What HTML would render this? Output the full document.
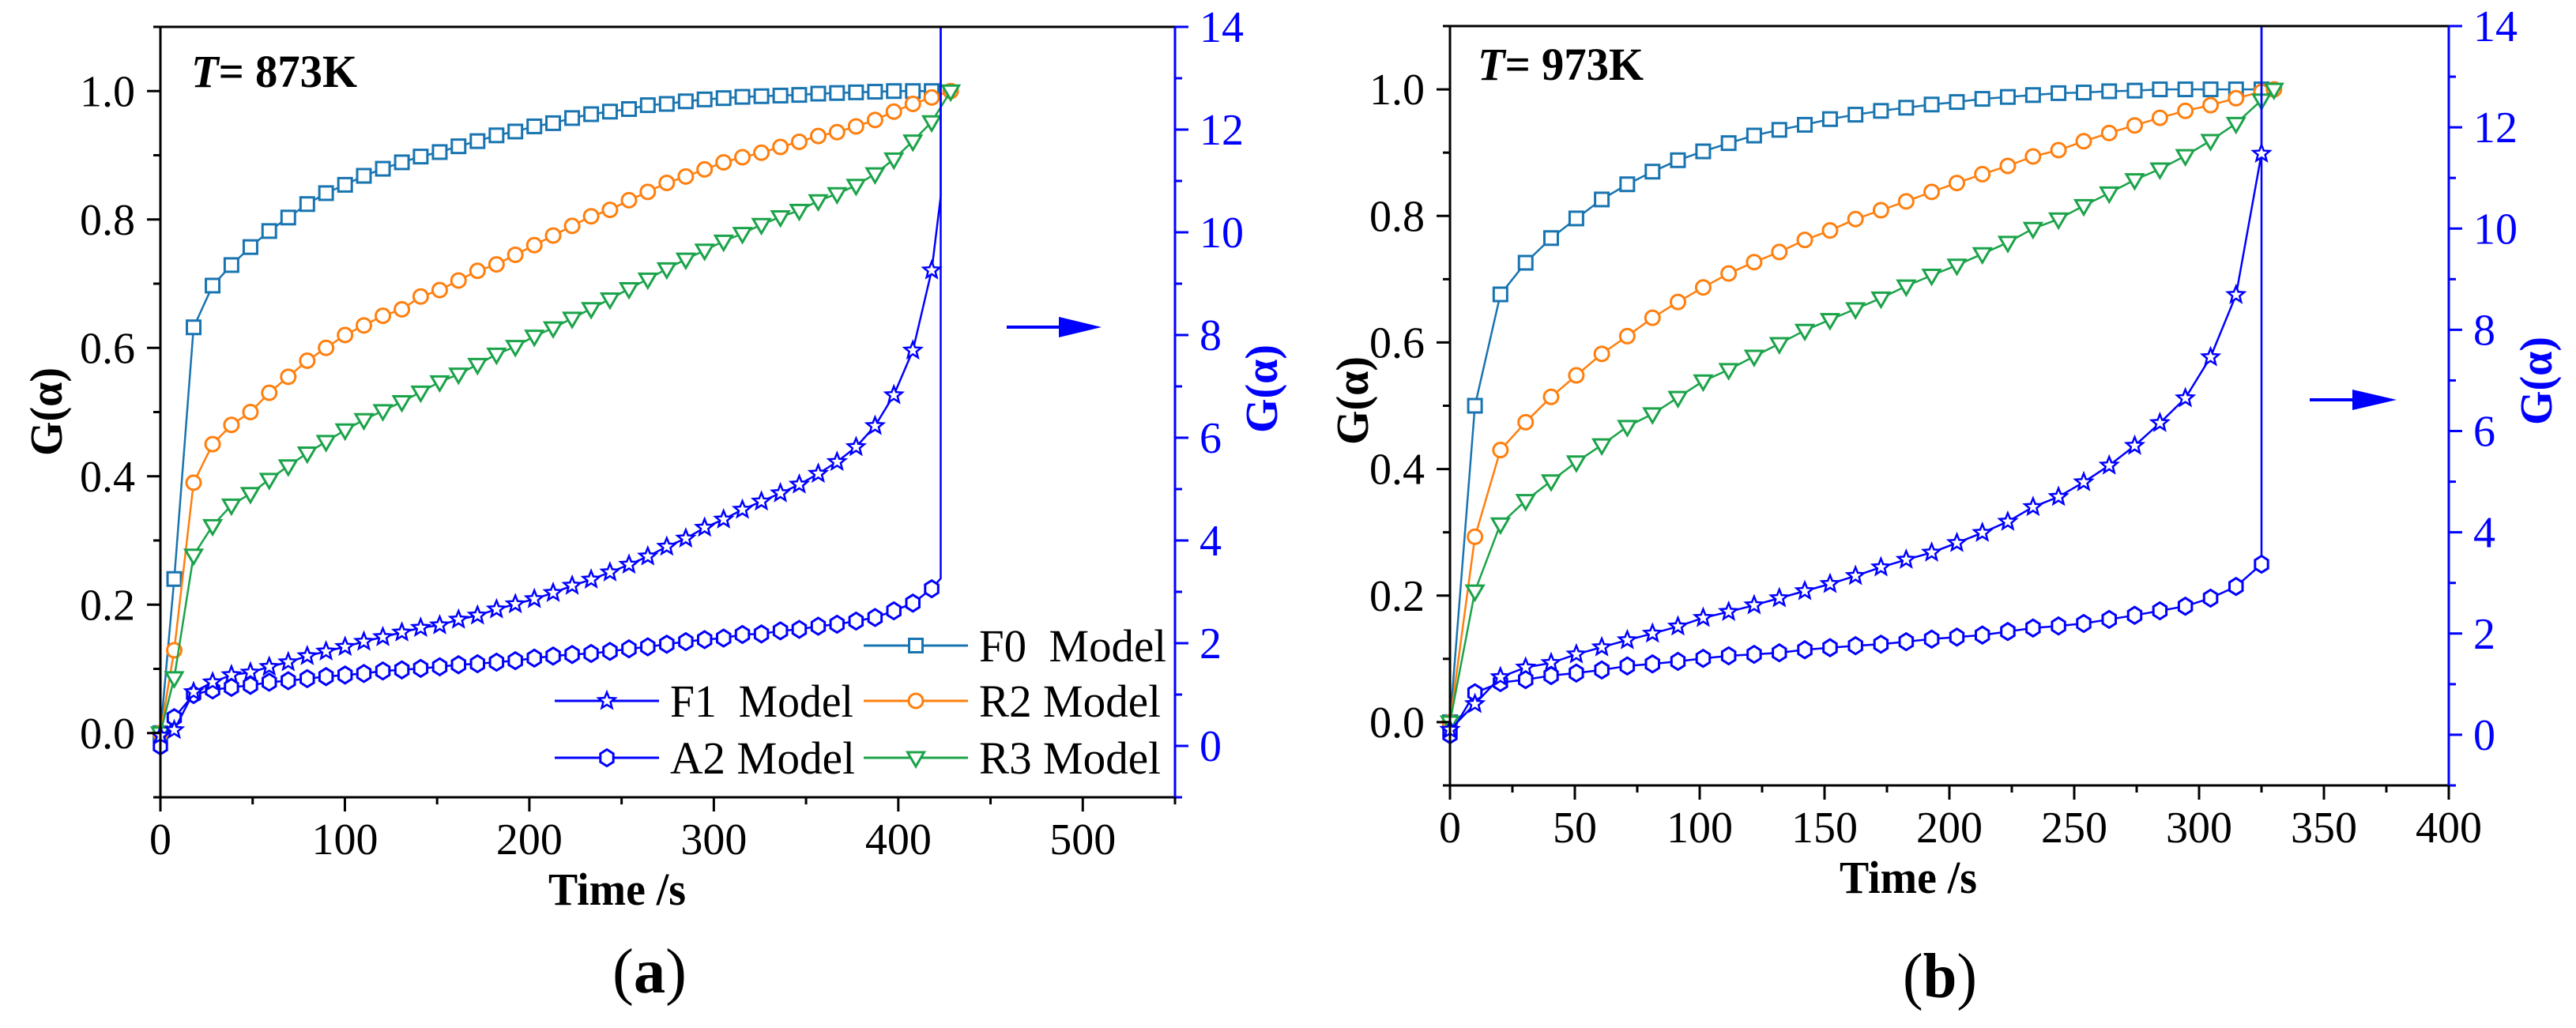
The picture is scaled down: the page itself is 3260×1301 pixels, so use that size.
<!DOCTYPE html>
<html><head><meta charset="utf-8">
<style>
html,body{margin:0;padding:0;background:#fff;}
svg{display:block;}
</style></head>
<body>
<svg id="chart" width="3260" height="1301" viewBox="0 0 3260 1301" xmlns="http://www.w3.org/2000/svg"></svg>
<script>
// ---------- Panel (a) data : T = 873K ----------
const aTime = [0,7.5,18,28.3,38.5,48.8,59,69.3,79.6,89.8,100.1,110.3,120.6,130.9,141.1,151.4,161.6,171.9,182.2,192.4,202.7,212.9,223.2,233.5,243.7,254,264.2,274.5,284.8,295,305.3,315.5,325.8,336.1,346.3,356.6,366.8,377.1,387.4,397.6,407.9,418.1,428.4];
const aF0 = [0,0.24,0.632,0.697,0.729,0.757,0.782,0.803,0.824,0.841,0.854,0.868,0.879,0.889,0.898,0.905,0.914,0.922,0.931,0.937,0.945,0.95,0.958,0.964,0.968,0.972,0.978,0.98,0.984,0.987,0.989,0.991,0.992,0.993,0.994,0.996,0.997,0.998,0.999,1.0,1.0,1.0,null];
const aR2 = [0,0.129,0.39,0.45,0.48,0.50,0.53,0.555,0.58,0.60,0.62,0.635,0.65,0.66,0.68,0.69,0.705,0.72,0.73,0.745,0.76,0.775,0.79,0.805,0.815,0.83,0.843,0.857,0.867,0.878,0.889,0.897,0.904,0.913,0.921,0.93,0.936,0.945,0.955,0.968,0.98,0.99,1.0];
const aR3 = [0,0.086,0.277,0.323,0.355,0.373,0.395,0.416,0.436,0.454,0.472,0.488,0.502,0.516,0.531,0.547,0.559,0.574,0.59,0.602,0.618,0.631,0.646,0.661,0.676,0.692,0.707,0.723,0.738,0.752,0.766,0.778,0.792,0.804,0.814,0.829,0.84,0.853,0.871,0.894,0.922,0.952,1.0];
const aF1 = [0.2,0.31,1.05,1.24,1.38,1.43,1.54,1.63,1.75,1.84,1.93,2.03,2.12,2.21,2.3,2.35,2.46,2.54,2.66,2.76,2.86,2.98,3.12,3.24,3.38,3.53,3.69,3.88,4.04,4.25,4.41,4.6,4.76,4.92,5.09,5.3,5.53,5.82,6.23,6.83,7.7,9.26,null];
const aA2 = [0,0.55,1.0,1.09,1.14,1.18,1.24,1.27,1.31,1.35,1.38,1.41,1.46,1.48,1.51,1.54,1.58,1.6,1.63,1.66,1.71,1.75,1.78,1.8,1.84,1.89,1.93,1.98,2.03,2.07,2.1,2.17,2.18,2.24,2.27,2.33,2.37,2.43,2.5,2.63,2.78,3.06,null];
const aEndTime = 423;
const aF1End = [10.7,16];
const aA2End = [3.26,16];
// ---------- Panel (b) data : T = 973K ----------
const bTime = [0,10,20.2,30.3,40.5,50.6,60.8,71,81.1,91.3,101.4,111.6,121.8,131.9,142.1,152.2,162.4,172.6,182.7,192.9,203,213.2,223.4,233.5,243.7,253.8,264,274.2,284.3,294.5,304.6,314.8,325,330];
const bF0 = [0,0.50,0.676,0.726,0.765,0.796,0.826,0.85,0.87,0.888,0.902,0.915,0.927,0.936,0.944,0.953,0.96,0.966,0.971,0.976,0.98,0.985,0.988,0.991,0.994,0.995,0.997,0.998,1.0,1.0,1.0,1.0,1.0,null];
const bR2 = [0,0.293,0.43,0.474,0.514,0.548,0.582,0.61,0.639,0.664,0.687,0.709,0.727,0.743,0.762,0.777,0.795,0.809,0.823,0.838,0.852,0.866,0.879,0.894,0.904,0.918,0.931,0.943,0.955,0.966,0.975,0.986,0.996,1.0];
const bR3 = [0,0.207,0.313,0.35,0.381,0.411,0.438,0.467,0.487,0.513,0.539,0.557,0.578,0.598,0.619,0.636,0.653,0.67,0.689,0.706,0.722,0.74,0.758,0.78,0.795,0.816,0.836,0.857,0.874,0.895,0.919,0.946,0.983,1.0];
const bF1 = [0.1,0.61,1.14,1.33,1.42,1.59,1.73,1.87,2.0,2.14,2.31,2.43,2.56,2.7,2.84,2.98,3.14,3.31,3.46,3.6,3.79,3.99,4.21,4.5,4.7,4.99,5.32,5.71,6.16,6.65,7.46,8.69,11.48,null];
const bA2 = [0,0.83,1.03,1.09,1.17,1.22,1.28,1.36,1.4,1.45,1.51,1.56,1.59,1.62,1.68,1.72,1.76,1.79,1.84,1.89,1.93,1.97,2.04,2.11,2.15,2.2,2.28,2.36,2.45,2.54,2.7,2.93,3.37,null];
const bEndTime = 325;
const bF1End = [16];
const bA2End = [16];
// ---------- tick labels ----------
const leftTicks = ["0.0","0.2","0.4","0.6","0.8","1.0"];
const rightTicks = ["0","2","4","6","8","10","12","14"];
const aXTicks = ["0","100","200","300","400","500"];
const bXTicks = ["0","50","100","150","200","250","300","350","400"];

const NS = "http://www.w3.org/2000/svg";
const svg = document.getElementById('chart');
const C = {F0:"#1874b0", R2:"#ff7f0e", R3:"#1ba34a", F1:"#0000ff", A2:"#0000ff"};
const FONT = "'Liberation Serif', 'Nimbus Roman', 'DejaVu Serif Condensed', 'DejaVu Serif', serif";

function mk(tag, attrs, parent){
  const e = document.createElementNS(NS, tag);
  for (const k in attrs) e.setAttribute(k, attrs[k]);
  if (tag === 'text') e.style.fontFamily = FONT;
  (parent||svg).appendChild(e);
  return e;
}
// width of a numeric label in Times-like metrics (digits 0.5em, dot 0.25em)
function numWidth(t, fs){ let w=0; for (const c of t) w += (c==='.'?0.25:0.5)*fs; return w; }
function fit(e, w){ e.setAttribute('textLength', w.toFixed(1)); e.setAttribute('lengthAdjust', 'spacingAndGlyphs'); }

function marker(g, type, x, y, color){
  let e;
  if (type === 'square') {
    e = mk('rect', {x:x-8.5, y:y-8.5, width:17, height:17, fill:'#fff', stroke:color, 'stroke-width':3}, g);
  } else if (type === 'circle') {
    e = mk('circle', {cx:x, cy:y, r:9, fill:'#fff', stroke:color, 'stroke-width':3}, g);
  } else if (type === 'tri') {
    e = mk('polygon', {points:`${x-10.5},${y-7} ${x+10.5},${y-7} ${x},${y+11}`, fill:'#fff', stroke:color, 'stroke-width':3}, g);
  } else if (type === 'hex') {
    let p=[]; for(let i=0;i<6;i++){const a=Math.PI/3*i+Math.PI/6; p.push((x+9.5*Math.cos(a)).toFixed(1)+','+(y+10.5*Math.sin(a)).toFixed(1));}
    e = mk('polygon', {points:p.join(' '), fill:'#fff', stroke:color, 'stroke-width':3}, g);
  } else {
    let p=[]; for(let i=0;i<10;i++){const r=i%2?4.8:11; const a=-Math.PI/2+Math.PI/5*i; p.push((x+r*Math.cos(a)).toFixed(1)+','+(y+r*Math.sin(a)).toFixed(1));}
    e = mk('polygon', {points:p.join(' '), fill:'#fff', stroke:color, 'stroke-width':2.5}, g);
  }
  return e;
}

function panel(P){
  const g = mk('g', {});
  
  
  const sx = v => P.L + (v - P.x0)/(P.x1 - P.x0)*(P.R - P.L);
  const syL = v => P.B - (v + 0.1)/1.2*(P.B - P.T);
  const syR = v => P.B - (v + 1)/15*(P.B - P.T);
  const clipId = 'clip-' + P.id;
  const cp = mk('clipPath', {id:clipId}, g);
  mk('rect', {x:P.L-25, y:P.T, width:P.R-P.L+50, height:P.B-P.T+30}, cp);
  const plot = mk('g', {'clip-path':`url(#${clipId})`}, g);
  
  

  P.series.forEach(s => {
    const sy = s.right ? syR : syL;
    const sg = mk('g', {}, plot);
    
    
    let pts = [];
    s.vals.forEach((v,i) => { if (v !== null) pts.push([sx(P.time[i]), sy(v)]); });
    if (s.end) s.end.forEach(v => pts.push([sx(P.endTime), sy(v)]));
    const line = mk('polyline', {points: pts.map(p=>p[0].toFixed(1)+','+p[1].toFixed(1)).join(' '), fill:'none', stroke:C[s.key], 'stroke-width':2.5, 'stroke-linejoin':'round'}, sg);
    
    
    s.vals.forEach((v,i) => {
      if (v === null) return;
      const m = marker(sg, s.mk, sx(P.time[i]), sy(v), C[s.key]);
      
      
    });
  });

  const ax = mk('g', {}, g);
  
  
  mk('line', {x1:P.L, y1:P.T, x2:P.R, y2:P.T, stroke:'#000', 'stroke-width':3}, ax);
  mk('line', {x1:P.L, y1:P.T, x2:P.L, y2:P.B, stroke:'#000', 'stroke-width':3}, ax);
  mk('line', {x1:P.L, y1:P.B, x2:P.R, y2:P.B, stroke:'#000', 'stroke-width':3}, ax);
  mk('line', {x1:P.R, y1:P.T, x2:P.R, y2:P.B, stroke:'#0000ff', 'stroke-width':3}, ax);

  for (let k=-1;k<=11;k++){
    const v=k/10, y=syL(v), major = k%2===0 && k>=0 && k<=10;
    mk('line', {x1:P.L-(major?17:9), y1:y, x2:P.L, y2:y, stroke:'#000', 'stroke-width':3}, ax);
  }
  leftTicks.forEach(t => {
    const e = mk('text', {x:P.L-32, y:syL(parseFloat(t))+19, 'text-anchor':'end', 'font-size':56, fill:'#000'}, ax);
    e.textContent = t; fit(e, numWidth(t,56));
    
    
  });
  for (let v=-1; v<=14; v++){
    const y=syR(v), major = v%2===0 && v>=0;
    mk('line', {x1:P.R, y1:y, x2:P.R+(major?17:9), y2:y, stroke:'#0000ff', 'stroke-width':3}, ax);
  }
  rightTicks.forEach(t => {
    const e = mk('text', {x:P.R+31, y:syR(parseFloat(t))+19, 'text-anchor':'start', 'font-size':56, fill:'#0000ff'}, ax);
    e.textContent = t; fit(e, numWidth(t,56));
    
    
  });
  for (let v=P.x0; v<=P.x1+0.01; v+=P.minor){
    const x=sx(v), major = Math.abs(v/P.major - Math.round(v/P.major))<1e-6;
    mk('line', {x1:x, y1:P.B, x2:x, y2:P.B+(major?18:9), stroke:'#000', 'stroke-width':3}, ax);
  }
  P.xTicks.forEach(t => {
    const e = mk('text', {x:sx(parseFloat(t)), y:P.B+72, 'text-anchor':'middle', 'font-size':56, fill:'#000'}, ax);
    e.textContent = t; fit(e, numWidth(t,56));
    
    
  });

  let e = mk('text', {x:P.xTitleX, y:P.B+136, 'text-anchor':'middle', 'font-size':58, 'font-weight':'bold'}, g);
  e.textContent = 'Time /s'; fit(e, 174);
   
  e = mk('text', {x:0, y:0, 'text-anchor':'middle', 'font-size':58, 'font-weight':'bold', transform:`translate(${P.yTitleX},${P.yTitleY}) rotate(-90)`}, g);
  e.textContent = 'G(α)'; fit(e, 112);
   
  e = mk('text', {x:0, y:0, 'text-anchor':'middle', 'font-size':58, 'font-weight':'bold', fill:'#0000ff', transform:`translate(${P.y2TitleX},${P.y2TitleY}) rotate(-90)`}, g);
  e.textContent = 'G(α)'; fit(e, 112);
   
  e = mk('text', {x:P.tX, y:P.tY, 'font-size':58, 'font-weight':'bold'}, g);
  e.innerHTML = '<tspan font-style="italic">T</tspan>= ' + P.temp;
  fit(e, 210);
   
  e = mk('text', {x:P.capX, y:P.capY, 'text-anchor':'middle', 'font-size':80}, g);
  e.innerHTML = '(<tspan font-weight="bold">' + P.cap + '</tspan>)';
  fit(e, 94);
   

  const ar = mk('g', {}, g);
   
  mk('line', {x1:P.arrow[0], y1:P.arrow[3], x2:P.arrow[1], y2:P.arrow[3], stroke:'#0000ff', 'stroke-width':4}, ar);
  mk('polygon', {points:`${P.arrow[1]},${P.arrow[3]-13} ${P.arrow[2]},${P.arrow[3]} ${P.arrow[1]},${P.arrow[3]+13}`, fill:'#0000ff'}, ar);
}

panel({id:'a', name:'panel-a', L:203, R:1487, T:34, B:1009, x0:0, x1:550, major:100, minor:50, xTicks:aXTicks,
  time:aTime, endTime:aEndTime,
  series:[
    {key:'F0', mk:'square', vals:aF0},
    {key:'R2', mk:'circle', vals:aR2},
    {key:'R3', mk:'tri', vals:aR3},
    {key:'A2', mk:'hex', vals:aA2, right:true, end:aA2End},
    {key:'F1', mk:'star', vals:aF1, right:true, end:aF1End}
  ],
  xTitleX:781, yTitleX:78, yTitleY:521, y2TitleX:1616, y2TitleY:492, tX:242, tY:110, temp:'873K',
  capX:822, capY:1256, cap:'a', arrow:[1274,1340,1394,414]});

panel({id:'b', name:'panel-b', L:1835, R:3099, T:33, B:994, x0:0, x1:400, major:50, minor:25, xTicks:bXTicks,
  time:bTime, endTime:bEndTime,
  series:[
    {key:'F0', mk:'square', vals:bF0},
    {key:'R2', mk:'circle', vals:bR2},
    {key:'R3', mk:'tri', vals:bR3},
    {key:'A2', mk:'hex', vals:bA2, right:true, end:bA2End},
    {key:'F1', mk:'star', vals:bF1, right:true, end:bF1End}
  ],
  xTitleX:2415, yTitleX:1731, yTitleY:507, y2TitleX:3229, y2TitleY:482, tX:1870, tY:101, temp:'973K',
  capX:2455, capY:1262, cap:'b', arrow:[2923,2977,3033,506]});

const lg = mk('g', {});


const legendItems = [
  {key:'F0', mk:'square', label:'F0\u00a0\u00a0Model', x:1093, y:817, w:237},
  {key:'F1', mk:'star', label:'F1\u00a0\u00a0Model', x:702, y:887, w:232},
  {key:'R2', mk:'circle', label:'R2 Model', x:1093, y:887, w:230},
  {key:'A2', mk:'hex', label:'A2 Model', x:702, y:959, w:234},
  {key:'R3', mk:'tri', label:'R3 Model', x:1093, y:959, w:230}
];
legendItems.forEach(it => {
  const eg = mk('g', {}, lg);
  
  
  mk('line', {x1:it.x, y1:it.y, x2:it.x+132, y2:it.y, stroke:C[it.key], 'stroke-width':3}, eg);
  marker(eg, it.mk, it.x+66, it.y, C[it.key]);
  const t = mk('text', {x:it.x+146, y:it.y+20, 'font-size':58}, eg);
  t.textContent = it.label; fit(t, it.w);
});
</script>
</body></html>
